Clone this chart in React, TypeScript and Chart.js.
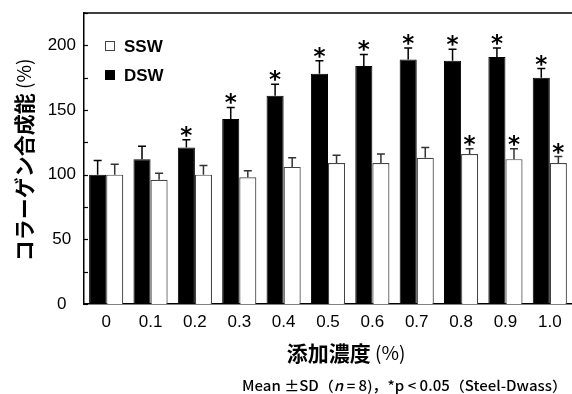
import React, { useEffect, useRef } from "react";
import { Chart, registerables } from "chart.js";

Chart.register(...registerables);

const categories = ["0", "0.1", "0.2", "0.3", "0.4", "0.5", "0.6", "0.7", "0.8", "0.9", "1.0"];
const dswMean = [100, 112, 121, 143, 161, 178, 184, 189, 188, 191, 175];
const dswSD = [11, 10, 6, 9, 9, 10, 9, 9, 9, 7, 7];
const sswMean = [100, 96, 100, 98, 106, 109, 109, 113, 116, 112, 109];
const sswSD = [8, 5, 7, 5, 7, 6, 7, 8, 4, 8, 5];
const dswSig = [false, false, true, true, true, true, true, true, true, true, true];
const sswSig = [false, false, false, false, false, false, false, false, true, true, true];
const yMin = 0;
const yMax = 225;
const yStep = 25;
const yLabelStep = 50;

const yTitleBold = "コラーゲン合成能";
const xTitleBold = "添加濃度";
const unitText = " (%)";

const CJK = '"Noto Sans CJK JP", sans-serif';
const SANS = '"Liberation Sans", Arial, sans-serif';

const overlayPlugin = {
  id: "overlay",
  afterDatasetsDraw(chart: any) {
    const ctx = chart.ctx;
    const area = chart.chartArea;
    const yScale = chart.scales.y;
    ctx.save();

    // top border
    ctx.strokeStyle = "#000";
    ctx.lineWidth = 1.5;
    ctx.beginPath();
    ctx.moveTo(area.left - 0.75, area.top);
    ctx.lineTo(chart.width, area.top);
    ctx.stroke();

    // inner ticks on y axis
    ctx.lineWidth = 1.2;
    const axisX = area.left;
    for (let v = yMin; v <= yMax; v += yStep) {
      const py = Math.round(yScale.getPixelForValue(v)) + 0.5;
      ctx.beginPath();
      ctx.moveTo(axisX, py);
      ctx.lineTo(axisX + 4, py);
      ctx.stroke();
    }

    // error bars + stars
    const groups = [
      { idx: 0, mean: dswMean, sd: dswSD, sig: dswSig, color: "#000" },
      { idx: 1, mean: sswMean, sd: sswSD, sig: sswSig, color: "#333" },
    ];
    groups.forEach((g) => {
      const meta = chart.getDatasetMeta(g.idx);
      meta.data.forEach((bar: any, i: number) => {
        const x = bar.x;
        const yTop = yScale.getPixelForValue(g.mean[i] + g.sd[i]);
        const yBar = bar.y;
        ctx.strokeStyle = g.color;
        ctx.lineWidth = 1.5;
        ctx.beginPath();
        ctx.moveTo(x, yBar);
        ctx.lineTo(x, yTop);
        ctx.moveTo(x - 4, yTop);
        ctx.lineTo(x + 4, yTop);
        ctx.stroke();
        if (g.sig[i]) {
          ctx.fillStyle = "#000";
          ctx.font = 'bold 23px "DejaVu Sans", sans-serif';
          ctx.textAlign = "center";
          ctx.textBaseline = "alphabetic";
          ctx.fillText("*", x, yTop + 3);
        }
      });
    });

    // legend
    const legendItems = [
      { label: "SSW", fill: "#fff", stroke: "#444", cy: 46 },
      { label: "DSW", fill: "#000", stroke: "#000", cy: 75 },
    ];
    legendItems.forEach((it) => {
      ctx.fillStyle = it.fill;
      ctx.strokeStyle = it.stroke;
      ctx.lineWidth = 1;
      ctx.fillRect(105.5, it.cy - 4.5, 9, 9);
      ctx.strokeRect(105.5, it.cy - 4.5, 9, 9);
      ctx.fillStyle = "#000";
      ctx.font = 'bold 17px ' + SANS;
      ctx.textAlign = "left";
      ctx.textBaseline = "middle";
      ctx.fillText(it.label, 124, it.cy + 1);
    });

    // y title
    ctx.save();
    ctx.translate(24, 160);
    ctx.rotate(-Math.PI / 2);
    ctx.textBaseline = "middle";
    ctx.textAlign = "left";
    ctx.font = "bold 21px " + CJK;
    const wB = ctx.measureText(yTitleBold).width;
    ctx.font = "19px " + CJK;
    const wU = ctx.measureText(unitText).width;
    let sx = -(wB + wU) / 2;
    ctx.fillStyle = "#000";
    ctx.font = "bold 21px " + CJK;
    ctx.fillText(yTitleBold, sx, 0);
    ctx.font = "19px " + CJK;
    ctx.fillText(unitText, sx + wB, 0);
    ctx.restore();

    // x title
    ctx.textBaseline = "middle";
    ctx.textAlign = "left";
    ctx.font = "bold 21px " + CJK;
    const xb = ctx.measureText(xTitleBold).width;
    ctx.font = "19px " + CJK;
    const xu = ctx.measureText(unitText).width;
    let tx = 346 - (xb + xu) / 2;
    ctx.fillStyle = "#000";
    ctx.font = "bold 21px " + CJK;
    ctx.fillText(xTitleBold, tx, 353);
    ctx.font = "19px " + CJK;
    ctx.fillText(unitText, tx + xb, 353);

    // footnote
    const parts = [
      { t: "Mean ±SD（", it: false },
      { t: "n", it: true },
      { t: " = 8)，*p < 0.05（Steel-Dwass）", it: false },
    ];
    const fsize = 14;
    let total = 0;
    parts.forEach((p) => {
      ctx.font = (p.it ? "italic 500 " : "500 ") + fsize + "px " + CJK;
      total += ctx.measureText(p.t).width;
    });
    const targetW = 325;
    const scaleX = targetW / total;
    ctx.save();
    ctx.translate(242, 386);
    ctx.scale(scaleX, 1);
    let fx = 0;
    ctx.textBaseline = "middle";
    parts.forEach((p) => {
      ctx.font = (p.it ? "italic 500 " : "500 ") + fsize + "px " + CJK;
      ctx.fillText(p.t, fx, 0);
      fx += ctx.measureText(p.t).width;
    });
    ctx.restore();

    ctx.restore();
  },
};

export default function App() {
  const ref = useRef<HTMLCanvasElement | null>(null);
  useEffect(() => {
    if (!ref.current) return;
    const chart = new Chart(ref.current, {
      type: "bar",
      data: {
        labels: categories,
        datasets: [
          {
            label: "DSW",
            data: dswMean,
            backgroundColor: "#000",
            borderColor: "#000",
            borderWidth: 1,
            categoryPercentage: 0.77,
            barPercentage: 1.0,
          },
          {
            label: "SSW",
            data: sswMean,
            backgroundColor: "#fff",
            borderColor: "#444",
            borderWidth: 1.2,
            categoryPercentage: 0.77,
            barPercentage: 1.0,
          },
        ],
      },
      options: {
        responsive: false,
        animation: false,
        devicePixelRatio: 1,
        layout: { padding: { top: 13, right: -2, left: 0, bottom: 0 } },
        plugins: { legend: { display: false }, tooltip: { enabled: false }, title: { display: false } },
        scales: {
          x: {
            grid: { display: false },
            border: { display: true, color: "#000", width: 1.5 },
            ticks: { font: { size: 17, family: SANS }, color: "#000", padding: 0, maxRotation: 0, autoSkip: false },
            afterFit: (s: any) => {
              s.height = 90;
            },
          },
          y: {
            min: yMin,
            max: yMax,
            grid: { display: false },
            border: { display: true, color: "#000", width: 1.5 },
            ticks: {
              stepSize: yStep,
              font: { size: 17, family: SANS },
              color: "#000",
              padding: 0,
              crossAlign: "center",
              callback: (v: any) => (Number(v) % yLabelStep === 0 ? String(v) : ""),
            },
            afterFit: (s: any) => {
              s.width = 84;
            },
          },
        },
      },
      plugins: [overlayPlugin],
    });
    return () => chart.destroy();
  }, []);
  return (
    <div style={{ position: "absolute", left: 0, top: 0, width: 572, height: 394, background: "#fff" }}>
      <canvas ref={ref} width={572} height={394} />
    </div>
  );
}
